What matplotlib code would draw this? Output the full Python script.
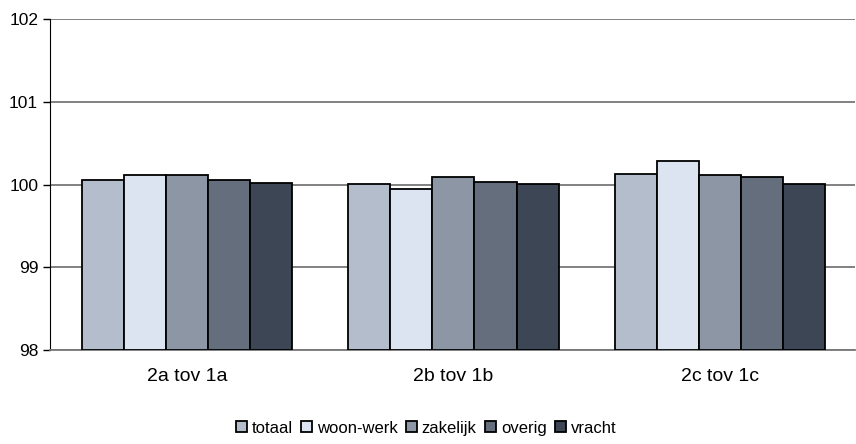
import numpy as np
import matplotlib.pyplot as plt

plt.rcParams["font.family"] = ["Liberation Sans", "DejaVu Sans"]

categories = ["2a tov 1a", "2b tov 1b", "2c tov 1c"]
series = ["totaal", "woon-werk", "zakelijk", "overig", "vracht"]
totaal = [100.06, 100.01, 100.13]
woon_werk = [100.11, 99.95, 100.28]
zakelijk = [100.12, 100.09, 100.11]
overig = [100.06, 100.03, 100.09]
vracht = [100.02, 100.01, 100.01]
colors = ["#b4bdcc", "#dce4f2", "#8c96a5", "#646e7d", "#3c4655"]

values = [totaal, woon_werk, zakelijk, overig, vracht]

fig = plt.figure(figsize=(8.56, 4.44), dpi=100)
ax = fig.add_axes([50 / 856, 1 - 350 / 444, 805 / 856, 331 / 444])

x = np.arange(len(categories))
width = 0.79 / len(series)
for i, (name, vals) in enumerate(zip(series, values)):
    pos = x - 0.395 + width * (i + 0.5)
    ax.bar(pos, np.array(vals) - 98, width, bottom=98, color=colors[i],
           edgecolor="black", linewidth=1.3, label=name, zorder=3)

ax.set_xlim(-0.514, 2.507)
ax.set_ylim(98, 102)
ax.set_yticks([98, 99, 100, 101, 102])
ax.set_xticks(x)
ax.set_xticklabels(categories, fontsize=14)
ax.tick_params(axis="x", length=0, pad=13)
ax.tick_params(axis="y", labelsize=12.5, length=5, width=1, direction="out", color="black")
ax.yaxis.grid(True, color="#777777", linewidth=1.3, zorder=0)
ax.set_axisbelow(True)

for side in ["top", "right"]:
    ax.spines[side].set_visible(False)
ax.spines["left"].set_color("black")
ax.spines["bottom"].set_color("#777777")
ax.spines["bottom"].set_linewidth(1.3)

fig.legend(loc="center", bbox_to_anchor=(426 / 856, 1 - 428 / 444), ncol=5,
           frameon=False, fontsize=12, handlelength=0.65, handleheight=0.65,
           handletextpad=0.3, columnspacing=0.5)

fig.savefig("out.png", dpi=100)
